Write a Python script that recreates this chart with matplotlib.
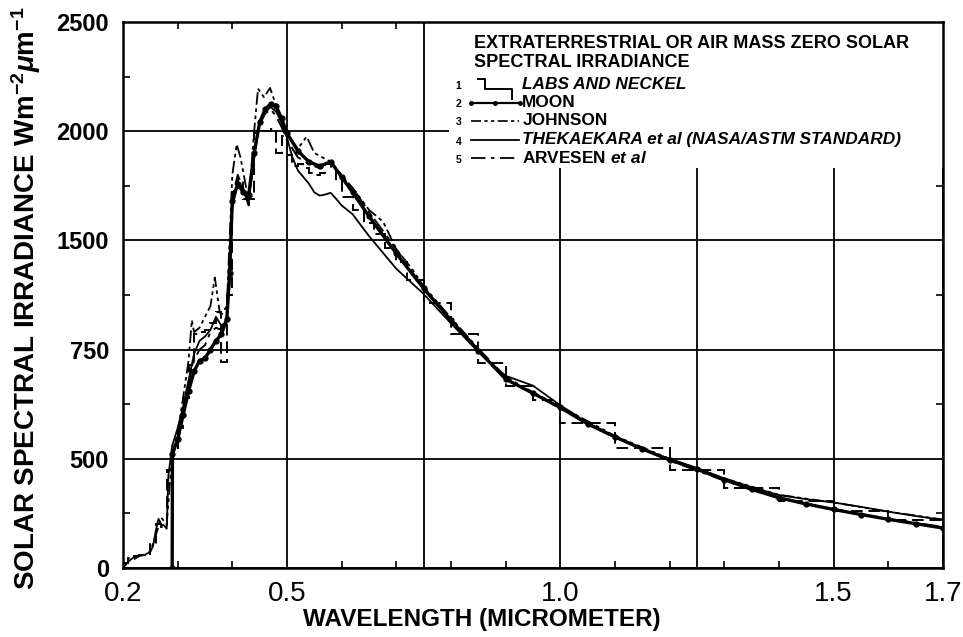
import matplotlib
matplotlib.use("Agg")
from matplotlib import pyplot as plt
from matplotlib.patches import Rectangle
from matplotlib.ticker import MultipleLocator

plt.rcParams['font.family'] = ['Liberation Sans', 'DejaVu Sans']
plt.rcParams['mathtext.fontset'] = 'custom'
plt.rcParams['mathtext.rm'] = 'Liberation Sans:bold'
plt.rcParams['mathtext.it'] = 'Liberation Sans:italic:bold'
plt.rcParams['mathtext.bf'] = 'Liberation Sans:bold'

# ---- data (wavelength in micrometer, W m-2 um-1) ----
# 1 Labs and Neckel: band averages (bin edges + values)
labs_edges = [0.20, 0.21, 0.22, 0.23, 0.24, 0.25, 0.26, 0.27, 0.28, 0.29, 0.30,
              0.31, 0.32, 0.33, 0.34, 0.35, 0.36, 0.37, 0.38, 0.39, 0.40,
              0.41, 0.42, 0.43, 0.44, 0.45, 0.46, 0.47, 0.48, 0.49, 0.50,
              0.51, 0.52, 0.53, 0.54, 0.55, 0.56, 0.57, 0.58, 0.59, 0.60,
              0.62, 0.64, 0.66, 0.68, 0.70, 0.72, 0.75, 0.80, 0.85, 0.90,
              0.95, 1.00, 1.10, 1.20, 1.30, 1.40, 1.50, 1.60, 1.70]
labs_vals = [25, 45, 55, 60, 65, 110, 200, 190, 450, 540,
             640, 780, 930, 1070, 1080, 1090, 1120, 1170, 945, 1250,
             1720, 1780, 1690, 1690, 1990, 2000, 2000, 2010, 1900, 1980,
             1890, 1840, 1850, 1830, 1810, 1800, 1810, 1850, 1830, 1770,
             1700, 1640, 1580, 1530, 1465, 1400, 1320, 1215, 1070, 940,
             835, 770, 664, 550, 450, 365, 305, 262, 222]

# 2 Moon
moon_wl = [0.29, 0.2905, 0.30, 0.31, 0.32, 0.33, 0.34, 0.35, 0.36, 0.37, 0.38,
           0.39, 0.395, 0.40, 0.41, 0.42, 0.43, 0.44, 0.45, 0.46, 0.47, 0.48,
           0.49, 0.50, 0.52, 0.54, 0.56, 0.58, 0.60, 0.62, 0.65, 0.70, 0.75,
           0.80, 0.85, 0.90, 0.95, 1.00, 1.05, 1.10, 1.15, 1.20, 1.25, 1.30,
           1.35, 1.40, 1.45, 1.50, 1.55, 1.60, 1.65, 1.70]
moon_val = [0, 520, 590, 700, 810, 900, 950, 960, 1000, 1040, 1070,
            1140, 1350, 1680, 1760, 1720, 1710, 1900, 2040, 2100, 2125, 2115,
            2060, 1990, 1910, 1860, 1840, 1860, 1790, 1720, 1610, 1440, 1280,
            1135, 995, 865, 800, 735, 660, 600, 545, 495, 452, 405,
            360, 322, 293, 268, 245, 223, 203, 183]

# 3 Johnson
john_wl = [0.22, 0.23, 0.24, 0.25, 0.26, 0.27, 0.28, 0.29, 0.30, 0.31, 0.32,
           0.326, 0.33, 0.34, 0.35, 0.36, 0.368, 0.377, 0.38, 0.39, 0.395,
           0.40, 0.408, 0.415, 0.43, 0.44, 0.447, 0.458, 0.469, 0.48, 0.49,
           0.50, 0.52, 0.536, 0.55, 0.58, 0.60, 0.62, 0.65, 0.676, 0.70,
           0.73, 0.75, 0.80, 0.85, 0.90, 0.95, 1.00, 1.10, 1.20, 1.30, 1.40,
           1.50, 1.60, 1.70]
john_val = [40, 55, 60, 75, 150, 230, 200, 520, 620, 780, 950,
            1135, 1080, 1100, 1150, 1200, 1330, 1170, 1160, 1200, 1500,
            1800, 1940, 1880, 1680, 2000, 2195, 2155, 2198, 2120, 2050,
            1990, 1920, 1975, 1900, 1860, 1800, 1740, 1640, 1585, 1460,
            1365, 1290, 1145, 1005, 875, 805, 740, 605, 500, 410, 335,
            300, 258, 222]

# 4 Thekaekara et al (NASA/ASTM standard)
thek_wl = [0.20, 0.21, 0.22, 0.23, 0.24, 0.25, 0.255, 0.26, 0.265, 0.27, 0.275,
           0.28, 0.283, 0.29, 0.30, 0.31, 0.32, 0.33, 0.34, 0.35, 0.36, 0.37,
           0.38, 0.39, 0.395, 0.40, 0.41, 0.42, 0.43, 0.44, 0.45, 0.46, 0.47,
           0.48, 0.49, 0.50, 0.51, 0.52, 0.53, 0.54, 0.55, 0.56, 0.57, 0.58,
           0.59, 0.60, 0.62, 0.65, 0.70, 0.75, 0.80, 0.85, 0.90, 0.95, 1.00,
           1.05, 1.10, 1.15, 1.20, 1.25, 1.30, 1.35, 1.40, 1.45, 1.50, 1.55,
           1.60, 1.65, 1.70]
thek_val = [0, 30, 50, 58, 60, 75, 100, 170, 225, 200, 195,
            180, 420, 560, 640, 740, 860, 980, 1040, 1060, 1090, 1150,
            1110, 1130, 1300, 1650, 1760, 1740, 1680, 1880, 2040, 2090, 2110,
            2090, 2040, 1970, 1880, 1820, 1790, 1760, 1720, 1705, 1710, 1718,
            1690, 1660, 1620, 1520, 1370, 1255, 1120, 990, 880, 835, 745,
            665, 600, 545, 500, 458, 410, 370, 334, 315, 300, 280,
            258, 238, 220]

# 5 Arvesen et al
arv_wl = [0.30, 0.31, 0.32, 0.33, 0.34, 0.35, 0.36, 0.37, 0.38, 0.39, 0.395,
          0.40, 0.41, 0.42, 0.43, 0.44, 0.45, 0.46, 0.47, 0.48, 0.49, 0.50,
          0.52, 0.54, 0.56, 0.58, 0.60, 0.62, 0.65, 0.70, 0.75, 0.80, 0.85,
          0.90, 0.95, 1.00, 1.05, 1.10, 1.20, 1.30, 1.40, 1.50, 1.60, 1.70]
arv_val = [560, 720, 850, 950, 1000, 1020, 1080, 1100, 1090, 1150, 1350,
           1700, 1800, 1730, 1660, 1900, 2030, 2080, 2100, 2070, 2020, 1960,
           1880, 1850, 1830, 1870, 1790, 1740, 1630, 1460, 1280, 1130, 1000,
           865, 800, 730, 660, 598, 492, 400, 320, 270, 225, 188]

x_ticks = [0.2, 0.5, 0.75, 1.0, 1.25, 1.5, 1.7]
x_labels = ['0.2', '0.5', '', '1.0', '', '1.5', '1.7']
y_ticks = [0, 500, 1000, 1500, 2000, 2500]
y_labels = ['0', '500', '750', '1500', '2000', '2500']

legend_title = ['EXTRATERRESTRIAL OR AIR MASS ZERO SOLAR', 'SPECTRAL IRRADIANCE']
legend_names = ['LABS AND NECKEL', 'MOON', 'JOHNSON',
                'THEKAEKARA et al (NASA/ASTM STANDARD)', r'ARVESEN $\mathit{et\ al}$']
legend_italic = [True, False, False, True, False]

fig = plt.figure(figsize=(9.63, 6.37), dpi=100)
ax = fig.add_axes([0.1277, 0.1083, 0.8515, 0.8572])

k = 'black'
ax.stairs(labs_vals, labs_edges, baseline=None, color=k, lw=1.4, ls=(0, (6, 3)), zorder=3)
ax.plot(moon_wl, moon_val, color=k, lw=2.4, marker='o', ms=3.5, zorder=3)
ax.plot(john_wl, john_val, color=k, lw=1.3, ls=(0, (7, 2, 2, 2, 2, 2)), zorder=3)
ax.plot(thek_wl, thek_val, color=k, lw=1.3, zorder=3)
ax.plot(arv_wl, arv_val, color=k, lw=1.4, ls=(0, (8, 3, 2, 3)), zorder=3)

ax.set_xlim(0.2, 1.7)
ax.set_ylim(0, 2500)
ax.set_xticks(x_ticks)
ax.set_xticklabels(x_labels)
ax.set_yticks(y_ticks)
ax.set_yticklabels(y_labels, fontweight='bold')
ax.xaxis.set_minor_locator(MultipleLocator(0.1))
ax.yaxis.set_minor_locator(MultipleLocator(250))
ax.tick_params(which='major', length=0)
ax.tick_params(axis='x', which='major', pad=9, labelsize=20)
ax.tick_params(axis='y', which='major', pad=10, labelsize=17)
ax.tick_params(which='minor', direction='in', length=5, width=1.2,
               top=True, right=True, bottom=True, left=True)
ax.set_axisbelow(True)
ax.grid(True, which='major', color=k, lw=1.3)
for s in ax.spines.values():
    s.set_linewidth(1.8)

ax.set_xlabel('WAVELENGTH (MICROMETER)', fontsize=17.5, fontweight='bold')
ax.xaxis.set_label_coords(0.438, -0.073)
ax.set_ylabel(r'SOLAR SPECTRAL IRRADIANCE Wm$^{-2}\mu$m$^{-1}$', fontsize=20,
              fontweight='bold')
ax.yaxis.set_label_coords(-0.098, 0.494)

# legend block, drawn by hand over a white patch
ax.add_patch(Rectangle((0.398, 0.733), 0.602, 0.267, transform=ax.transAxes,
                       facecolor='white', edgecolor='none', zorder=2))
ta = dict(transform=ax.transAxes, fontweight='bold', zorder=4,
          va='center', ha='left')
ax.text(0.428, 0.960, legend_title[0], fontsize=13, **ta)
ax.text(0.428, 0.925, legend_title[1], fontsize=13, **ta)
rows_y = [0.885, 0.852, 0.819, 0.784, 0.751]
for i, (name, y) in enumerate(zip(legend_names, rows_y)):
    ax.text(0.409, y - 0.003, str(i + 1), transform=ax.transAxes, fontsize=7.5,
            fontweight='bold', ha='center', va='center', zorder=4)
    ax.text(0.487, y, name, fontsize=12.4,
            style='italic' if legend_italic[i] else 'normal', **ta)
lt = dict(transform=ax.transAxes, color=k, zorder=4, clip_on=False)
ax.plot([0.433, 0.441, 0.441, 0.474, 0.474], [0.896, 0.896, 0.877, 0.877, 0.859],
        lw=1.4, **lt)
ax.plot([0.424, 0.454, 0.484], [0.852] * 3, lw=1.6, marker='o', ms=2.5, **lt)
ax.plot([0.424, 0.483], [0.819] * 2, lw=1.2, ls=(0, (6, 2, 2, 2, 2, 2)), **lt)
ax.plot([0.424, 0.483], [0.784] * 2, lw=1.3, **lt)
ax.plot([0.424, 0.483], [0.751] * 2, lw=1.3, ls=(0, (8, 3, 2, 3)), **lt)

fig.savefig('out.png', dpi=100, facecolor='white')
